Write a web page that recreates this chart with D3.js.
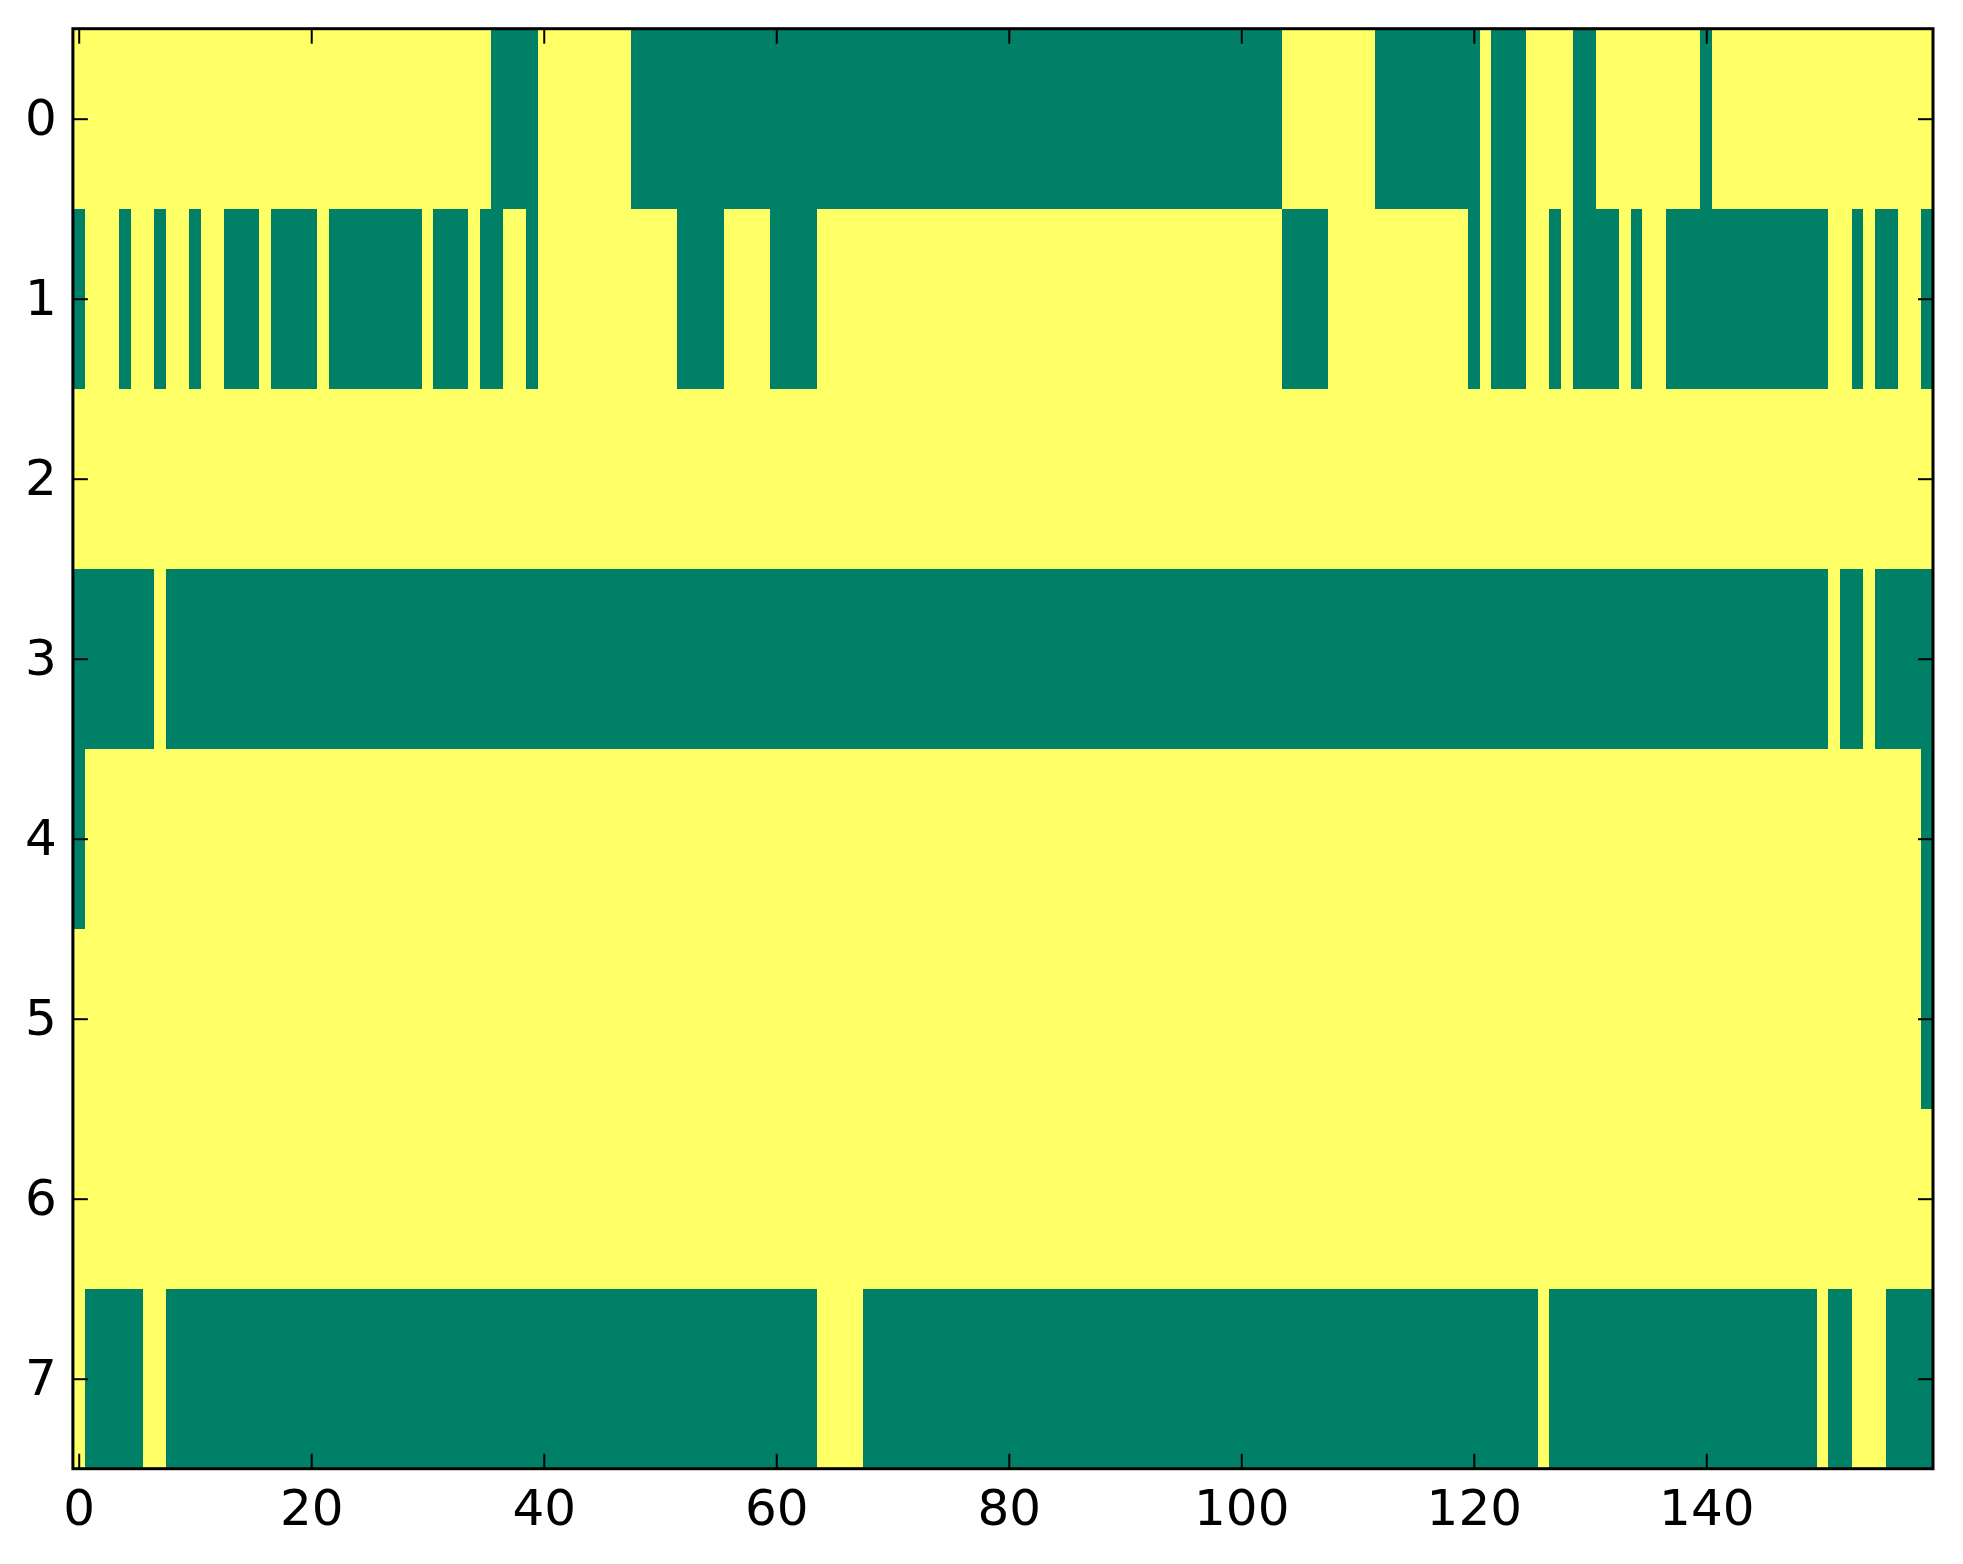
<!DOCTYPE html>
<html>
<head>
<meta charset="utf-8">
<script src="https://cdnjs.cloudflare.com/ajax/libs/d3/7.8.5/d3.min.js"></script>
<style>
  html, body { margin: 0; padding: 0; background: #fff; }
  svg { display: block; }
  .tick text { font-family: "DejaVu Sans", sans-serif; font-size: 50px; fill: #000; }
</style>
</head>
<body>
<svg id="chart" width="1963" height="1564"></svg>
<script>
// 8 rows x 160 columns, 1 = yellow, 0 = green (summer colormap)
// written in groups of ten columns
const row0 = "1111111111 1111111111 1111111111 1111110000 1111111100 0000000000 0000000000 0000000000 0000000000 0000000000 0000111111 1100000000 0100011110 0111111111 0111111111 1111111111";
const row1 = "0111011011 0110001000 0100000000 1000100110 1111111111 1100001111 0000111111 1111111111 1111111111 1111111111 1111000011 1111111111 0100011010 0001011000 0000000000 0110100110";
const row2 = "1111111111 1111111111 1111111111 1111111111 1111111111 1111111111 1111111111 1111111111 1111111111 1111111111 1111111111 1111111111 1111111111 1111111111 1111111111 1111111111";
const row3 = "0000000100 0000000000 0000000000 0000000000 0000000000 0000000000 0000000000 0000000000 0000000000 0000000000 0000000000 0000000000 0000000000 0000000000 0000000000 0100100000";
const row4 = "0111111111 1111111111 1111111111 1111111111 1111111111 1111111111 1111111111 1111111111 1111111111 1111111111 1111111111 1111111111 1111111111 1111111111 1111111111 1111111110";
const row5 = "1111111111 1111111111 1111111111 1111111111 1111111111 1111111111 1111111111 1111111111 1111111111 1111111111 1111111111 1111111111 1111111111 1111111111 1111111111 1111111110";
const row6 = "1111111111 1111111111 1111111111 1111111111 1111111111 1111111111 1111111111 1111111111 1111111111 1111111111 1111111111 1111111111 1111111111 1111111111 1111111111 1111111111";
const row7 = "1000001100 0000000000 0000000000 0000000000 0000000000 0000000000 0000111100 0000000000 0000000000 0000000000 0000000000 0000000000 0000001000 0000000000 0000000000 1001110000";

const rows = [row0, row1, row2, row3, row4, row5, row6, row7];
const xTicks = [0, 20, 40, 60, 80, 100, 120, 140];
const yTicks = [0, 1, 2, 3, 4, 5, 6, 7];

const nCols = 160;
const nRows = rows.length;

// flatten to cells
const cells = [];
rows.forEach((r, i) => {
    const vals = r.replace(/ /g, "").split("").map(Number);
    vals.forEach((v, j) => cells.push({ row: i, col: j, value: v }));
});

const plotLeft = 72.9, plotRight = 1933, plotTop = 28.7, plotBottom = 1468.7;

const x = d3.scaleLinear().domain([-0.5, nCols - 0.5]).range([plotLeft, plotRight]);
const y = d3.scaleLinear().domain([-0.5, nRows - 0.5]).range([plotTop, plotBottom]);
const color = d3.scaleOrdinal().domain([0, 1]).range(["#008066", "#ffff66"]);

const svg = d3.select("#chart");
svg.append("rect").attr("width", 1963).attr("height", 1564).attr("fill", "#fff");

// heatmap cells
svg.append("g")
    .attr("shape-rendering", "crispEdges")
    .selectAll("rect")
    .data(cells)
    .join("rect")
    .attr("x", d => x(d.col - 0.5))
    .attr("y", d => y(d.row - 0.5))
    .attr("width", d => x(d.col + 0.5) - x(d.col - 0.5) + 0.5)
    .attr("height", d => y(d.row + 0.5) - y(d.row - 0.5) + 0.5)
    .attr("fill", d => color(d.value));

// axes, ticks point inward on all four sides
function styleAxis(g) {
    g.select(".domain").remove();
    g.selectAll(".tick line").attr("stroke", "#000").attr("stroke-width", 2);
}

svg.append("g")
    .attr("transform", `translate(0,${plotBottom})`)
    .call(d3.axisBottom(x).tickValues(xTicks).tickSize(-15).tickPadding(21))
    .call(styleAxis);

svg.append("g")
    .attr("transform", `translate(0,${plotTop})`)
    .call(d3.axisTop(x).tickValues(xTicks).tickSize(-15).tickFormat(""))
    .call(styleAxis);

svg.append("g")
    .attr("transform", `translate(${plotLeft},0)`)
    .call(d3.axisLeft(y).tickValues(yTicks).tickSize(-15).tickPadding(16))
    .call(styleAxis);

svg.append("g")
    .attr("transform", `translate(${plotRight},0)`)
    .call(d3.axisRight(y).tickValues(yTicks).tickSize(-15).tickFormat(""))
    .call(styleAxis);

// frame
svg.append("rect")
    .attr("x", plotLeft)
    .attr("y", plotTop)
    .attr("width", plotRight - plotLeft)
    .attr("height", plotBottom - plotTop)
    .attr("fill", "none")
    .attr("stroke", "#000")
    .attr("stroke-width", 3);
</script>
</body>
</html>
